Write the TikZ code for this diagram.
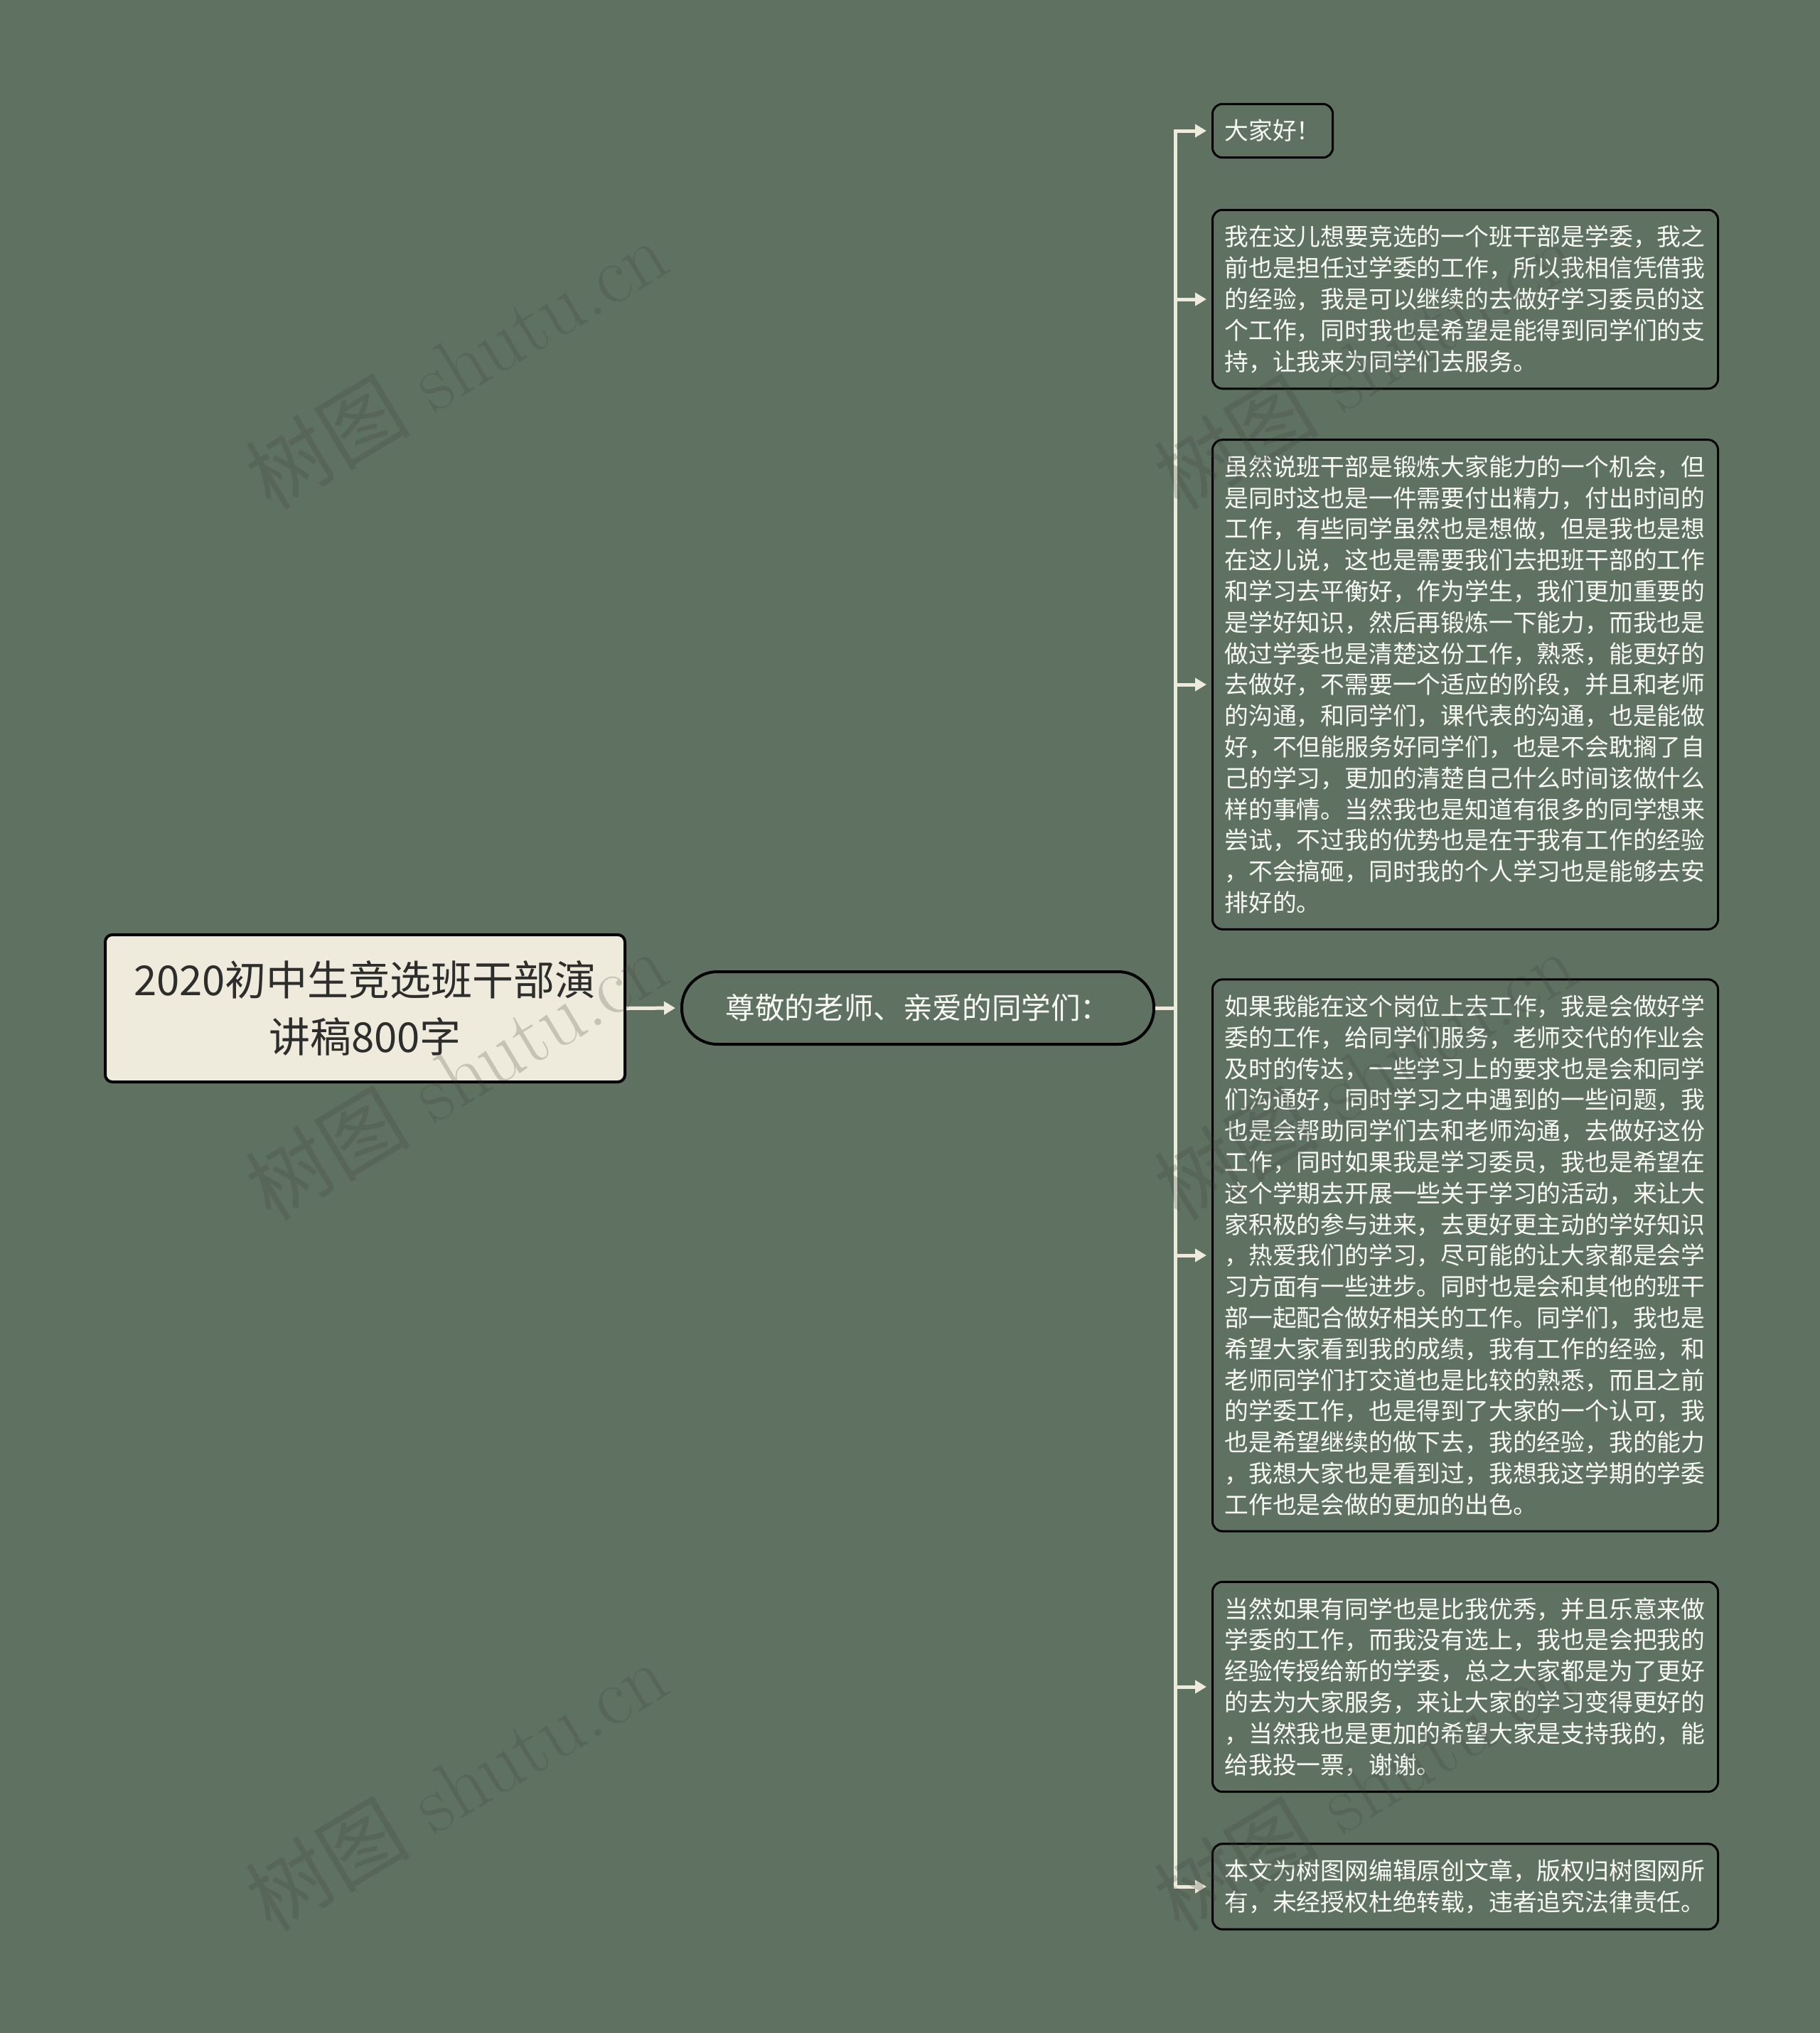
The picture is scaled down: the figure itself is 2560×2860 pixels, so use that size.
\documentclass[tikz,border=0pt]{standalone}
\usepackage{fontspec}
\newfontfamily\cjk{Noto Sans CJK SC}
\usetikzlibrary{arrows.meta}
\definecolor{bgcol}{RGB}{95,114,98}
\definecolor{cream}{RGB}{239,235,220}
\definecolor{leaftext}{RGB}{250,250,244}
\definecolor{roottext}{RGB}{45,45,45}
\tikzset{
x=0.5pt,y=-0.5pt,
every node/.style=
    {inner sep=0pt,
    font=\cjk
    },
rootbox/.style=
    {draw=black,line width=2pt,
    fill=cream,
    rounded corners=5pt,
    minimum width=365.5pt,minimum height=103.5pt,
    text width=350pt,align=center,
    text=roottext,
    font={\cjk\fontsize{29pt}{40pt}\selectfont}
    },
topicbox/.style=
    {draw=black,line width=2pt,
    fill=bgcol,
    rounded corners=25pt,
    minimum width=332pt,minimum height=51pt,
    text=leaftext,
    font={\cjk\fontsize{20.8pt}{26pt}\selectfont}
    },
leafbox/.style=
    {draw=black,line width=1.5pt,
    fill=bgcol,
    rounded corners=7pt,
    inner xsep=8.5pt,inner ysep=11pt,
    anchor=west,align=left,
    text=leaftext,
    font={\cjk\fontsize{16.9pt}{21.9pt}\selectfont}
    },
widebox/.style=
    {leafbox,
    text width=338.5pt
    },
link/.style=
    {draw=cream,
    line width=2.5pt
    },
arr/.style=
    {link,
    -{Triangle[length=8pt,width=9pt]},
    shorten >=3.5pt
    },
wmark/.style=
    {rotate=31,
    text=black!75,text opacity=0.24,
    font={\fontsize{58pt}{58pt}\selectfont}
    }}

\begin{document}
\begin{tikzpicture}
\fill[bgcol] (0,0) rectangle (2560,2860);
\useasboundingbox (0,0) rectangle (2560,2860);

\node[rootbox] (root) at (513.5,1418.5) {2020初中生竞选班干部演\\讲稿800字};
\node[topicbox] (greet) at (1291,1418) {尊敬的老师、亲爱的同学们：};
\coordinate (fork) at (1653,1418);

\node[leafbox] (hello) at (1704,184) {大家好！};
\node[widebox] (wish) at (1704,421) {我在这儿想要竞选的一个班干部是学委，我之\\前也是担任过学委的工作，所以我相信凭借我\\的经验，我是可以继续的去做好学习委员的这\\个工作，同时我也是希望是能得到同学们的支\\持，让我来为同学们去服务。};
\node[widebox] (balance) at (1704,963) {虽然说班干部是锻炼大家能力的一个机会，但\\是同时这也是一件需要付出精力，付出时间的\\工作，有些同学虽然也是想做，但是我也是想\\在这儿说，这也是需要我们去把班干部的工作\\和学习去平衡好，作为学生，我们更加重要的\\是学好知识，然后再锻炼一下能力，而我也是\\做过学委也是清楚这份工作，熟悉，能更好的\\去做好，不需要一个适应的阶段，并且和老师\\的沟通，和同学们，课代表的沟通，也是能做\\好，不但能服务好同学们，也是不会耽搁了自\\己的学习，更加的清楚自己什么时间该做什么\\样的事情。当然我也是知道有很多的同学想来\\尝试，不过我的优势也是在于我有工作的经验\\，不会搞砸，同时我的个人学习也是能够去安\\排好的。};
\node[widebox] (plan) at (1704,1766) {如果我能在这个岗位上去工作，我是会做好学\\委的工作，给同学们服务，老师交代的作业会\\及时的传达，一些学习上的要求也是会和同学\\们沟通好，同时学习之中遇到的一些问题，我\\也是会帮助同学们去和老师沟通，去做好这份\\工作，同时如果我是学习委员，我也是希望在\\这个学期去开展一些关于学习的活动，来让大\\家积极的参与进来，去更好更主动的学好知识\\，热爱我们的学习，尽可能的让大家都是会学\\习方面有一些进步。同时也是会和其他的班干\\部一起配合做好相关的工作。同学们，我也是\\希望大家看到我的成绩，我有工作的经验，和\\老师同学们打交道也是比较的熟悉，而且之前\\的学委工作，也是得到了大家的一个认可，我\\也是希望继续的做下去，我的经验，我的能力\\，我想大家也是看到过，我想我这学期的学委\\工作也是会做的更加的出色。};
\node[widebox] (thanks) at (1704,2373) {当然如果有同学也是比我优秀，并且乐意来做\\学委的工作，而我没有选上，我也是会把我的\\经验传授给新的学委，总之大家都是为了更好\\的去为大家服务，来让大家的学习变得更好的\\，当然我也是更加的希望大家是支持我的，能\\给我投一票，谢谢。};
\node[widebox] (note) at (1704,2654) {本文为树图网编辑原创文章，版权归树图网所\\有，未经授权杜绝转载，违者追究法律责任。};

\draw[arr] (root.east) -- (greet.west);
\draw[link] (greet.east) -- (fork);
\foreach \leaf in {hello,wish,balance,plan,thanks,note}
    \draw[arr] (fork) |- (\leaf.west);

\foreach \i/\px/\py in {1/642/512,2/642/1512,3/642/2512,4/1920/512,5/1920/1512,6/1920/2512}
    \node[wmark] (wm\i) at (\px,\py) {{\cjk 树图} shutu.cn};
\end{tikzpicture}
\end{document}
